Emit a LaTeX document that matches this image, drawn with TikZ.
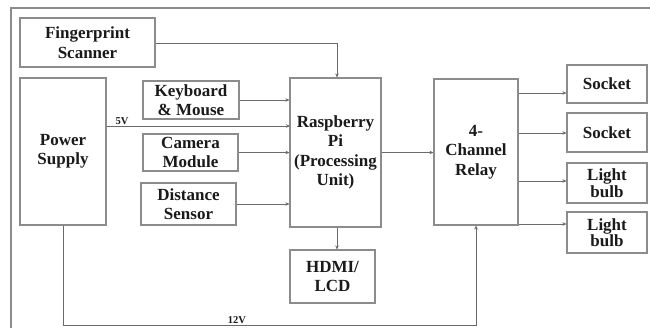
\documentclass[tikz,border=0pt]{standalone}
\usepackage{fontspec}
\setmainfont{Liberation Serif}
\usetikzlibrary{arrows.meta}
\definecolor{boxgray}{HTML}{8C8C8C}
\definecolor{linegray}{HTML}{6A6A6A}
\definecolor{txt}{HTML}{1A1A1A}
\begin{document}
\begin{tikzpicture}[x=1pt,y=-1pt,
  blk/.style={draw=boxgray,line width=1.1pt,fill=white,inner sep=0pt,align=center,
    text=txt,font=\fontsize{17}{19.5}\selectfont\bfseries},
  tight/.style={font=\fontsize{17}{15.5}\selectfont\bfseries},
  conn/.style={draw=linegray,line width=0.9pt},
  arr/.style={conn,-{Stealth[length=4pt,width=3.5pt]}},
  lbl/.style={text=txt,font=\fontsize{10.5}{11}\selectfont\bfseries,inner sep=0pt}]
\useasboundingbox (0,0) rectangle (650,328);
\clip (0,0) rectangle (650,328);
\fill[white] (0,0) rectangle (650,328);
\draw[boxgray,line width=1.2pt] (11,8) rectangle (670,345);

\node[blk,minimum width=135pt,minimum height=49pt] (fp) at (87.5,42.5) {Fingerprint\\Scanner};
\node[blk,minimum width=86pt,minimum height=147pt] (ps) at (63,151.5) {Power\\Supply};
\node[blk,minimum width=96pt,minimum height=38pt] (km) at (191,100) {Keyboard\\\& Mouse};
\node[blk,minimum width=95pt,minimum height=37pt] (cam) at (190.5,152.5) {Camera\\Module};
\node[blk,minimum width=95pt,minimum height=42pt] (dist) at (188.5,204) {Distance\\Sensor};
\node[blk,minimum width=91pt,minimum height=149pt] (rpi) at (335.5,152.5) {Raspberry\\Pi\\(Processing\\Unit)};
\node[blk,minimum width=85pt,minimum height=53pt] (hdmi) at (332.5,276.5) {HDMI/\\LCD};
\node[blk,minimum width=84pt,minimum height=146pt] (relay) at (476,152) {4-\\Channel\\Relay};
\node[blk,minimum width=80pt,minimum height=38pt] (s1) at (607,84) {Socket};
\node[blk,minimum width=80pt,minimum height=39pt] (s2) at (607,132.5) {Socket};
\node[blk,tight,minimum width=80pt,minimum height=40pt] (l1) at (607,183) {Light\\bulb};
\node[blk,tight,minimum width=80pt,minimum height=41pt] (l2) at (607,232.5) {Light\\bulb};

\coordinate (v5) at (290,126);
\coordinate (g12) at (63,325);

\draw[arr] (fp.east |- 0,43) -| ([xshift=1.5pt]rpi.north);
\draw[arr] (km.east) -- (km.east -| rpi.west);
\draw[arr] (ps.east |- v5) -- (v5);
\draw[arr] (cam.east) -- (cam.east -| rpi.west);
\draw[arr] (dist.east) -- (dist.east -| rpi.west);
\draw[arr] (rpi.east) -- (rpi.east -| relay.west);
\draw[arr] ([xshift=1.5pt]rpi.south) -- ([xshift=1.5pt]rpi.south |- hdmi.north);
\draw[arr] (relay.east |- 0,93) -- (s1.west |- 0,93);
\draw[arr] (relay.east |- 0,133) -- (s2.west |- 0,133);
\draw[arr] (relay.east |- 0,181) -- (l1.west |- 0,181);
\draw[arr] (relay.east |- 0,224) -- (l2.west |- 0,224);
\draw[arr] (ps.south) -- (g12) -| (relay.south);

\node[lbl,anchor=south] (l5v) at (122,125) {5V};
\node[lbl,anchor=south] (l12v) at (237,324) {12V};
\end{tikzpicture}
\end{document}
